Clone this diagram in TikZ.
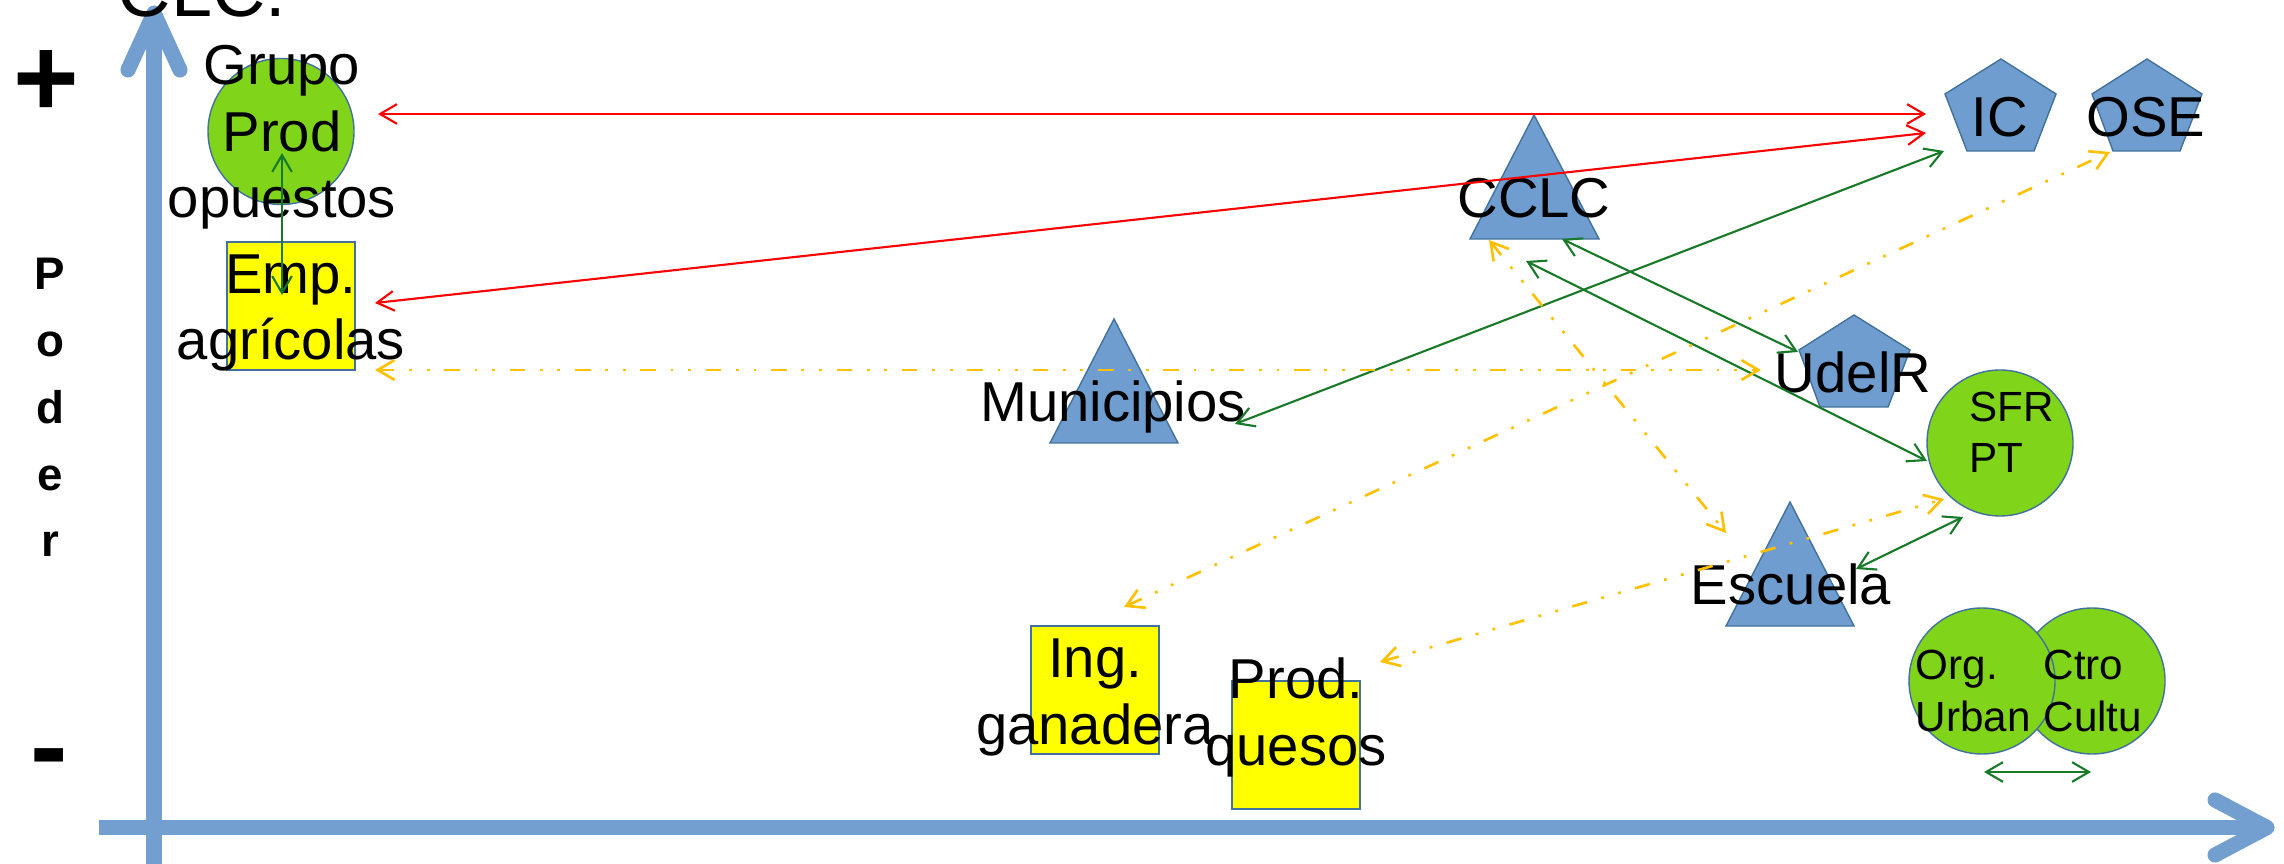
\documentclass[tikz,border=0pt]{standalone}
\usepackage{fontspec}
\setmainfont{Liberation Sans}
\usetikzlibrary{arrows.meta}

\definecolor{ejeazul}{RGB}{114,159,207}
\definecolor{actorazul}{RGB}{112,157,207}
\definecolor{bordeazul}{RGB}{65,113,156}
\definecolor{verdeclaro}{RGB}{128,212,26}
\definecolor{verdeosc}{RGB}{24,122,40}
\definecolor{naranja}{RGB}{255,192,0}
\definecolor{amarillo}{RGB}{255,255,0}

\tikzset{
  eje/.style={line width=4.3pt, ejeazul},
  punta/.style={eje, line cap=round, line join=round},
  actor/.style={fill=actorazul, draw=bordeazul, line width=0.4pt},
  circulo/.style={circle, fill=verdeclaro, draw=bordeazul, line width=0.4pt, minimum size=1.46cm, inner sep=0pt},
  caja/.style={rectangle, fill=amarillo, draw=bordeazul, line width=0.4pt, minimum size=1.28cm, inner sep=0pt},
  txt/.style={align=center, inner sep=0pt, anchor=base, font=\fontsize{16}{19}\selectfont},
  txtchico/.style={align=left, inner sep=0pt, anchor=base west, font=\fontsize{12}{14.6}\selectfont},
  signo/.style={inner sep=0pt, anchor=base, font=\bfseries\fontsize{32}{38}\selectfont},
  barbas/.style={<->, >={Straight Barb[length=4.8pt,width=5.6pt]}},
  relroja/.style={barbas, red, line width=0.6pt},
  relverde/.style={barbas, verdeosc, line width=0.6pt},
  relnaranja/.style={barbas, naranja, line width=0.75pt,
    dash pattern=on 4.4pt off 4.2pt on 0.8pt off 4.2pt on 0.8pt off 4.2pt},
}

\begin{document}
\begin{tikzpicture}
\useasboundingbox (0,0) rectangle (22.84,8.63);
% ejes
\draw[eje] (1.54,-0.2) -- (1.54,8.45);
\draw[punta] (1.28,7.93) -- (1.54,8.50) -- (1.80,7.93);
\draw[eje] (0.99,0.355) -- (22.6,0.355);
\draw[punta] (22.15,0.63) -- (22.67,0.355) -- (22.15,0.08);
\node[txt, font=\fontsize{21}{25}\selectfont] (clc) at (2.02,8.46) {CLC.};
\node[signo] (mas) at (0.46,7.46) {+};
\node[signo] (menos) at (0.49,0.79) {-};
\node[txt, font=\bfseries\fontsize{13}{19}\selectfont] (poder) at (0.50,3.06) {P\\o\\d\\e\\r};
% triangulos
\draw[actor] (14.70,6.24) -- (15.34,7.48) -- (15.99,6.24) -- cycle; % CCLC
\draw[actor] (10.50,4.20) -- (11.14,5.44) -- (11.78,4.20) -- cycle; % Municipios
\draw[actor] (17.26,2.37) -- (17.90,3.61) -- (18.54,2.37) -- cycle; % Escuela
% pentagonos
\draw[actor] (19.67,7.12) -- (19.45,7.69) -- (20.01,8.04) -- (20.56,7.69) -- (20.34,7.12) -- cycle; % IC
\draw[actor] (21.13,7.12) -- (20.92,7.69) -- (21.47,8.04) -- (22.02,7.69) -- (21.80,7.12) -- cycle; % OSE
\draw[actor] (18.20,4.56) -- (17.99,5.13) -- (18.54,5.48) -- (19.10,5.13) -- (18.88,4.56) -- cycle; % UdelR
% circulos y cajas
\node[circulo] (grupo) at (2.81,7.315) {};
\node[caja] (emp) at (2.91,5.57) {};
\node[circulo] (sfr) at (20.00,4.20) {};
\node[caja] (ing) at (10.95,1.73) {};
\node[caja] (quesos) at (12.96,1.18) {};
\node[circulo] (ctro) at (20.92,1.82) {};
\node[circulo] (org) at (19.82,1.82) {};
% textos
\node[txt] (grupo-t) at (2.82,6.45) {Grupo\\Prod\\opuestos};
\node[txt] (emp-t) at (2.91,5.03) {Emp.\\agrícolas};
\node[txt] (cclc-t) at (15.34,6.45) {CCLC};
\node[txt] (muni-t) at (11.13,4.41) {Municipios};
\node[txt] (ic-t) at (20.00,7.26) {IC};
\node[txt] (ose-t) at (21.46,7.26) {OSE};
\node[txt] (udelr-t) at (18.53,4.70) {UdelR};
\node[txt] (escuela-t) at (17.91,2.58) {Escuela};
\node[txt] (ing-t) at (10.95,1.19) {Ing.\\ganadera};
\node[txt] (quesos-t) at (12.96,0.98) {Prod.\\quesos};
\node[txtchico] (sfr-t) at (19.69,3.90) {SFR\\PT};
\node[txtchico] (org-t) at (19.15,1.32) {Org.\\Urban};
\node[txtchico] (ctro-t) at (20.43,1.32) {Ctro\\Cultu};
% extremos
\coordinate (grupo-r) at (3.78,7.49);
\coordinate (ic-r1) at (19.26,7.49);
\coordinate (emp-r) at (3.75,5.60);
\coordinate (ic-r2) at (19.26,7.30);
\coordinate (grupo-v) at (2.82,7.10);
\coordinate (emp-v) at (2.82,5.68);
\coordinate (muni-v) at (12.35,4.39);
\coordinate (ic-v) at (19.44,7.12);
\coordinate (cclc-v1) at (15.62,6.24);
\coordinate (udelr-v) at (17.98,5.11);
\coordinate (cclc-v2) at (15.26,6.02);
\coordinate (sfr-v1) at (19.27,4.02);
\coordinate (escuela-v) at (18.56,2.94);
\coordinate (sfr-v2) at (19.63,3.46);
\coordinate (org-v) at (19.84,0.91);
\coordinate (ctro-v) at (20.91,0.91);
\coordinate (emp-n) at (3.75,4.93);
\coordinate (udelr-n) at (17.61,4.93);
\coordinate (cclc-n) at (14.89,6.23);
\coordinate (escuela-n) at (17.26,3.30);
\coordinate (ing-n) at (11.24,2.56);
\coordinate (ose-n) at (21.10,7.11);
\coordinate (quesos-n) at (13.80,2.01);
\coordinate (sfr-n) at (19.44,3.64);
% relaciones
\draw[relroja] (grupo-r) -- (ic-r1);
\draw[relroja] (emp-r) -- (ic-r2);
\draw[relverde] (grupo-v) -- (emp-v);
\draw[relverde] (muni-v) -- (ic-v);
\draw[relverde] (cclc-v1) -- (udelr-v);
\draw[relverde] (cclc-v2) -- (sfr-v1);
\draw[relverde] (escuela-v) -- (sfr-v2);
\draw[relverde] (org-v) -- (ctro-v);
\draw[relnaranja] (emp-n) -- (udelr-n);
\draw[relnaranja] (cclc-n) -- (escuela-n);
\draw[relnaranja] (ing-n) -- (ose-n);
\draw[relnaranja] (quesos-n) -- (sfr-n);
\end{tikzpicture}
\end{document}
